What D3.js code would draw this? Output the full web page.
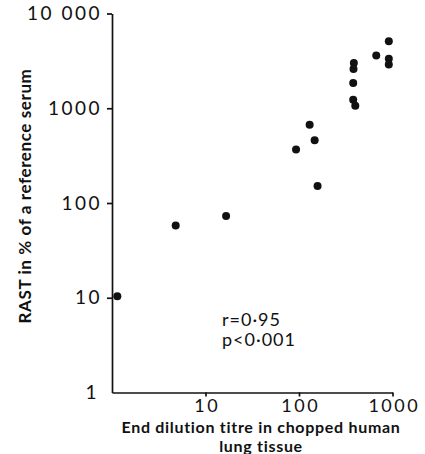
<!DOCTYPE html>
<html>
<head>
<meta charset="utf-8">
<script src="https://cdn.jsdelivr.net/npm/d3@7"></script>
<style>
  body { margin: 0; background: #fff; }
  svg text { font-family: Lato, "Open Sans", sans-serif; fill: #111; }
</style>
</head>
<body>
<div id="chart"></div>
<script>
const WIDTH = 425;
const HEIGHT = 454;

// end dilution titre (x) vs RAST % of reference serum (y)
const titre = [1.14, 4.8, 16.6, 93, 130, 147, 158, 386, 383, 380, 380, 400, 670, 913, 913, 913];
const rast  = [10.4, 58, 73, 366, 670, 460, 151, 3000, 2600, 1850, 1230, 1060, 3600, 5100, 3340, 2890];

const xTicks = [10, 100, 1000];
const yTicks = [10, 100, 1000, 10000];
const xTickLabels = ["10", "100", "1000"];
const yTickLabels = ["10", "100", "1000", "10 000"];
const statLines = ["r=0·95", "p<0·001"];
const xLabelLines = ["End  dilution titre in chopped human", "lung tissue"];
const yLabel = "RAST in % of a reference serum";

let margin = {top: 13.5, right: 32.5, bottom: 61.5, left: 112};
let width = WIDTH - margin.left - margin.right;
let height = HEIGHT - margin.top - margin.bottom;

let xScale = d3.scaleLog().domain([1, 1000]).range([0, width]);
let yScale = d3.scaleLog().domain([1, 10000]).range([height, 0]);

let svg = d3.select("#chart").append("svg")
    .attr("width", WIDTH)
    .attr("height", HEIGHT);
let svgG = svg.append("g")
    .attr("transform", "translate(" + margin.left + "," + margin.top + ")");

// x-axis
let xAxis = d3.axisBottom(xScale)
    .tickValues(xTicks)
    .tickFormat((d, i) => xTickLabels[i])
    .tickSizeInner(4)
    .tickSizeOuter(0)
    .tickPadding(3);
let xG = svgG.append("g")
    .attr("class", "x axis")
    .attr("transform", "translate(0," + height + ")")
    .call(xAxis);

// y-axis
let yAxis = d3.axisLeft(yScale)
    .tickValues(yTicks)
    .tickFormat((d, i) => yTickLabels[i])
    .tickSizeInner(5)
    .tickSizeOuter(0)
    .tickPadding(5);
let yG = svgG.append("g")
    .attr("class", "y axis")
    .call(yAxis);

// the "1" at the origin sits on the y side
yG.append("text")
    .attr("x", -13)
    .attr("y", height)
    .attr("dy", "0.35em")
    .attr("text-anchor", "end")
    .text("1");

svgG.selectAll(".axis path, .axis line")
    .attr("stroke", "#111")
    .attr("stroke-width", 1.7);
svgG.selectAll(".axis text")
    .attr("fill", "#111")
    .style("font-size", "19px")
    .style("letter-spacing", "2.5px");
xG.selectAll(".tick text")
    .style("font-size", "18px")
    .attr("dx", "1.25px");

// axis titles, two separate lines
xLabelLines.forEach((line, i) => {
  svg.append("text")
      .attr("x", 261)
      .attr("y", 433 + i * 19.3)
      .attr("text-anchor", "middle")
      .style("font-size", "16px")
      .style("font-weight", "bold")
      .style("letter-spacing", "0.7px")
      .text(line);
});

svg.append("text")
    .attr("transform", "translate(31," + 196 + ") rotate(-90)")
    .attr("text-anchor", "middle")
    .style("font-size", "17px")
    .style("font-weight", "bold")
    .style("letter-spacing", "0.6px")
    .text(yLabel);

// statistics note
svg.append("text")
    .style("font-size", "18px")
    .style("letter-spacing", "1px")
    .selectAll("tspan").data(statLines).enter()
    .append("tspan")
    .attr("x", 222)
    .attr("y", (d, i) => 326 + i * 20)
    .text(d => d);

// dots
svgG.append("g").selectAll(".dot")
    .data(titre.map((t, i) => ({x: t, y: rast[i]})))
  .enter().append("circle")
    .attr("class", "dot")
    .attr("r", 4)
    .attr("cx", d => xScale(d.x))
    .attr("cy", d => yScale(d.y))
    .style("fill", "#111");
</script>
</body>
</html>
